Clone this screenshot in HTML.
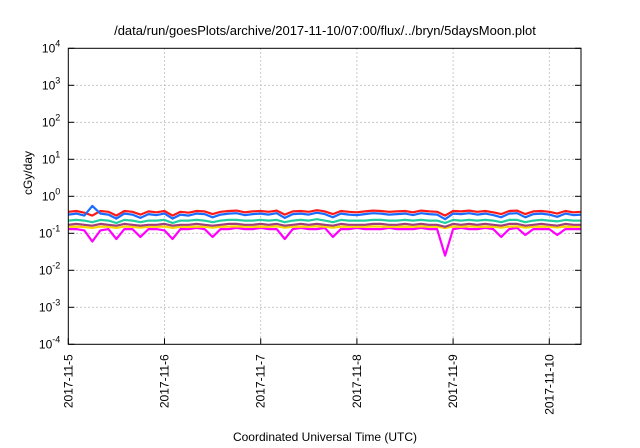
<!DOCTYPE html>
<html><head><meta charset="utf-8">
<style>
html,body{margin:0;padding:0;background:#fff;}
svg{display:block;font-family:"Liberation Sans",sans-serif;}
</style></head>
<body>
<svg id="chart" width="640" height="448" viewBox="0 0 640 448">
<text x="325" y="35" font-size="13" text-anchor="middle">/data/run/goesPlots/archive/2017-11-10/07:00/flux/../bryn/5daysMoon.plot</text>
<text transform="translate(32,173) rotate(-90)" font-size="12" text-anchor="middle">cGy/day</text>
<text x="325" y="441" font-size="12" text-anchor="middle">Coordinated Universal Time (UTC)</text>
<g id="grid"></g>
<g id="series"></g>
<rect x="68.3" y="48.3" width="512.7" height="296" fill="none" stroke="#000" stroke-width="1"/>
<g id="axes"></g>
</svg>
<script>
const hours = [0,2,4,6,8,10,12,14,16,18,20,22,24,26,28,30,32,34,36,38,40,42,44,46,48,50,52,54,56,58,60,62,64,66,68,70,72,74,76,78,80,82,84,86,88,90,92,94,96,98,100,102,104,106,108,110,112,114,116,118,120,122,124,126,128];
const dayLabels = ["2017-11-5","2017-11-6","2017-11-7","2017-11-8","2017-11-9","2017-11-10"];
const yExponents = [-4,-3,-2,-1,0,1,2,3,4];
const redVals = [0.38,0.40,0.36,0.30,0.40,0.38,0.30,0.40,0.38,0.32,0.39,0.37,0.40,0.30,0.38,0.36,0.40,0.39,0.33,0.38,0.40,0.41,0.37,0.39,0.40,0.38,0.41,0.32,0.39,0.40,0.38,0.42,0.39,0.33,0.40,0.38,0.37,0.39,0.41,0.40,0.38,0.39,0.40,0.37,0.41,0.39,0.38,0.30,0.40,0.39,0.41,0.38,0.40,0.37,0.33,0.40,0.41,0.33,0.39,0.40,0.38,0.34,0.40,0.37,0.38];
const blueVals = [0.32,0.34,0.30,0.55,0.34,0.32,0.25,0.34,0.32,0.26,0.33,0.31,0.34,0.25,0.32,0.30,0.34,0.33,0.27,0.32,0.34,0.35,0.31,0.33,0.34,0.32,0.35,0.26,0.33,0.34,0.32,0.36,0.33,0.27,0.34,0.32,0.31,0.33,0.35,0.34,0.32,0.33,0.34,0.31,0.35,0.33,0.32,0.24,0.34,0.33,0.35,0.32,0.34,0.31,0.27,0.34,0.35,0.27,0.33,0.34,0.32,0.28,0.34,0.31,0.32];
const tealVals = [0.22,0.23,0.22,0.20,0.23,0.22,0.19,0.23,0.22,0.20,0.22,0.22,0.23,0.19,0.22,0.22,0.23,0.22,0.20,0.22,0.23,0.23,0.22,0.22,0.23,0.22,0.23,0.20,0.22,0.23,0.22,0.24,0.22,0.20,0.23,0.22,0.22,0.22,0.23,0.23,0.22,0.22,0.23,0.22,0.23,0.22,0.22,0.19,0.23,0.22,0.23,0.22,0.23,0.22,0.20,0.23,0.23,0.20,0.22,0.23,0.22,0.21,0.23,0.22,0.22];
const purpleVals = [0.17,0.18,0.17,0.16,0.18,0.17,0.16,0.18,0.17,0.16,0.17,0.17,0.18,0.16,0.17,0.17,0.18,0.17,0.16,0.17,0.18,0.18,0.17,0.17,0.18,0.17,0.18,0.16,0.17,0.18,0.17,0.18,0.17,0.16,0.18,0.17,0.17,0.17,0.18,0.18,0.17,0.17,0.18,0.17,0.18,0.17,0.17,0.15,0.18,0.17,0.18,0.17,0.18,0.17,0.16,0.18,0.18,0.16,0.17,0.18,0.17,0.16,0.18,0.17,0.17];
const yellowVals = [0.150,0.152,0.148,0.140,0.152,0.150,0.140,0.152,0.150,0.142,0.150,0.150,0.152,0.140,0.150,0.148,0.152,0.150,0.142,0.150,0.152,0.154,0.150,0.150,0.152,0.150,0.154,0.142,0.150,0.152,0.150,0.155,0.150,0.142,0.152,0.150,0.150,0.150,0.154,0.152,0.150,0.150,0.152,0.150,0.154,0.150,0.150,0.138,0.152,0.150,0.154,0.150,0.152,0.150,0.142,0.152,0.154,0.142,0.150,0.152,0.150,0.144,0.152,0.150,0.150];
const magentaVals = [0.13,0.13,0.12,0.06,0.12,0.13,0.07,0.13,0.13,0.08,0.13,0.13,0.12,0.07,0.13,0.13,0.14,0.13,0.08,0.13,0.13,0.14,0.13,0.13,0.14,0.13,0.13,0.07,0.13,0.14,0.13,0.13,0.14,0.08,0.13,0.13,0.14,0.13,0.13,0.13,0.14,0.13,0.13,0.13,0.14,0.13,0.13,0.025,0.13,0.14,0.13,0.13,0.14,0.13,0.08,0.13,0.14,0.09,0.13,0.13,0.13,0.09,0.13,0.13,0.13];

const NS = "http://www.w3.org/2000/svg";
const X0 = 68.3, X1 = 581, Y0 = 48.3, Y1 = 344.3;
const DAY_PX = 96.2;
function xScale(h){ return X0 + h / 24 * DAY_PX; }
function yScale(v){ return Y1 - (Math.log10(v) + 4) / 8 * (Y1 - Y0); }
function mk(tag, attrs, parent){ const e = document.createElementNS(NS, tag); for (const k in attrs) e.setAttribute(k, attrs[k]); parent.appendChild(e); return e; }

const grid = document.getElementById("grid");
const axes = document.getElementById("axes");
yExponents.forEach(function(ex){
  const y = yScale(Math.pow(10, ex));
  if (ex > -4 && ex < 4) {
    const g = mk("line", {x1:X0, x2:X1, y1:y, y2:y, stroke:"#aaa", "stroke-width":0.8, "stroke-dasharray":"1.5,2.5"}, grid);
    
    
  }
  const t1 = mk("line", {x1:X0, x2:X0+6, y1:y, y2:y, stroke:"#000"}, axes);
  
  
  const t2 = mk("line", {x1:X1-6, x2:X1, y1:y, y2:y, stroke:"#000"}, axes);
  
  
  const lbl = mk("text", {x:X0-8, y:y+4, "font-size":12, "text-anchor":"end"}, axes);
  
  
  lbl.textContent = "10";
  const sup = mk("tspan", {dy:-6, "font-size":9}, lbl);
  sup.textContent = String(ex);
});
dayLabels.forEach(function(d, i){
  const x = xScale(i * 24);
  if (i > 0) {
    const g = mk("line", {x1:x, x2:x, y1:Y0, y2:Y1, stroke:"#aaa", "stroke-width":0.8, "stroke-dasharray":"1.5,2.5"}, grid);
    
    
  }
  const t = mk("line", {x1:x, x2:x, y1:Y1, y2:Y1-6, stroke:"#000"}, axes);
  
  
  const lbl = mk("text", {transform:"translate(" + (x+4) + "," + (Y1+10) + ") rotate(-90)", "font-size":12, "text-anchor":"end"}, axes);
  
  
  lbl.textContent = d;
});

const seriesList = [
  {vals: magentaVals, color: "#ff00ff", name: "series-magenta"},
  {vals: yellowVals, color: "#ffd700", name: "series-yellow"},
  {vals: purpleVals, color: "#a0407a", name: "series-purple"},
  {vals: tealVals, color: "#20d0a0", name: "series-teal"},
  {vals: redVals, color: "#ff1a1a", name: "series-red"},
  {vals: blueVals, color: "#1a6cff", name: "series-blue"}
];
const sg = document.getElementById("series");
seriesList.forEach(function(s){
  const pts = hours.map(function(h, i){ return xScale(h).toFixed(1) + "," + yScale(s.vals[i]).toFixed(1); }).join(" ");
  const p = mk("polyline", {points:pts, fill:"none", stroke:s.color, "stroke-width":2.2, "stroke-linejoin":"round"}, sg);
  
  
});
</script>
</body></html>
